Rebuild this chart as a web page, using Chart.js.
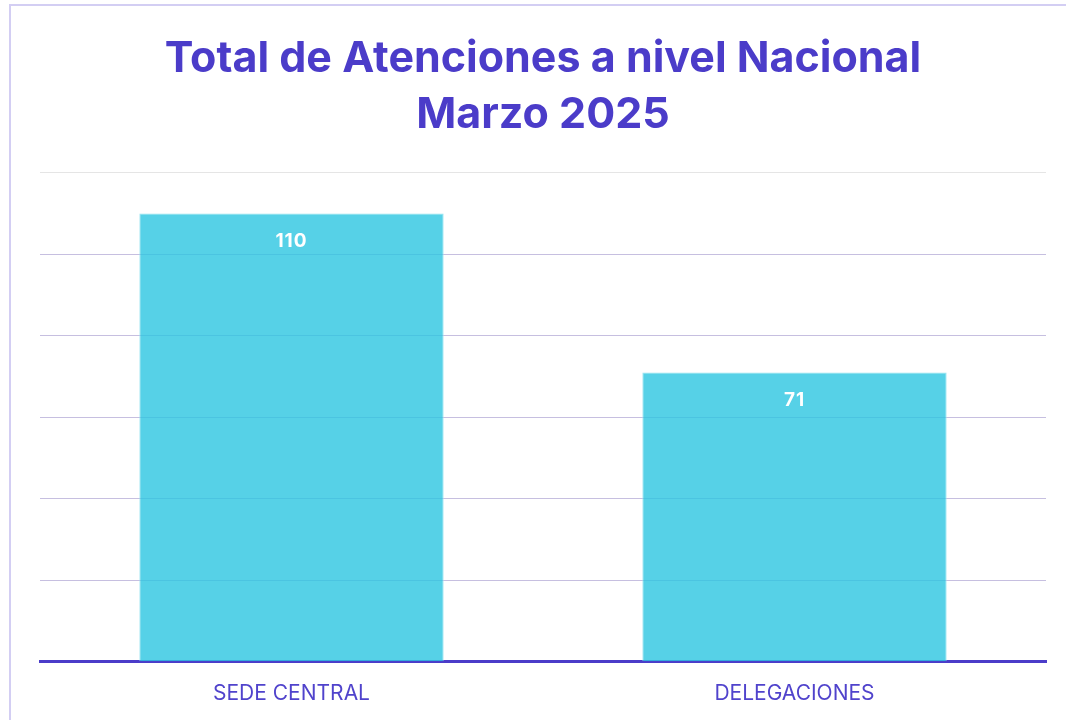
<!DOCTYPE html>
<html>
<head>
<meta charset="utf-8">
<script src="https://cdn.jsdelivr.net/npm/chart.js@4"></script>
<style>
    body { margin: 0; background: #fff; overflow: hidden; }
    .frame {
        position: absolute; left: 9px; top: 4px;
        width: 1100px; height: 800px;
        border: 2px solid #d3cef3;
    }
    .wrap { position: absolute; left: 0; top: 0; width: 1066px; height: 740px; }
</style>
</head>
<body>
<div class="frame"></div>
<div class="wrap"><canvas id="atencionesChart"></canvas></div>
<script>
// Chart data
const categories = ['SEDE CENTRAL', 'DELEGACIONES'];
const atenciones = [110, 71];
const titleLines = ['Total de Atenciones a nivel Nacional', 'Marzo 2025'];

const PURPLE = '#4b3cc9';

// Draw values inside top of each bar
const barValuesPlugin = {
    id: 'barValues',
    afterDatasetsDraw(chart) {
        const ctx = chart.ctx;
        const meta = chart.getDatasetMeta(0);
        ctx.save();
        ctx.fillStyle = '#ffffff';
        ctx.font = 'bold 19px Inter, "Liberation Sans", sans-serif';
        ctx.letterSpacing = '1px';
        ctx.textAlign = 'center';
        ctx.textBaseline = 'middle';
        meta.data.forEach((bar, i) => {
            ctx.fillText(chart.data.datasets[0].data[i], bar.x, bar.y + 28);
        });
        ctx.restore();
    }
};

const ctx1 = document.getElementById('atencionesChart').getContext('2d');
const atencionesChart = new Chart(ctx1, {
    type: 'bar',
    data: {
        labels: categories,
        datasets: [{
            label: 'Atenciones',
            data: atenciones,
            backgroundColor: 'rgba(44, 198, 225, 0.8)',
            borderColor: 'rgba(140, 225, 240, 0.9)',
            borderWidth: 1,
            barPercentage: 0.605,
            categoryPercentage: 1
        }]
    },
    options: {
        responsive: true,
        maintainAspectRatio: false,
        animation: false,
        layout: {
            padding: { left: 40, right: 20, top: 0, bottom: 15 }
        },
        plugins: {
            legend: { display: false },
            tooltip: { enabled: false },
            title: {
                display: true,
                text: titleLines,
                color: PURPLE,
                font: { family: 'Inter, sans-serif', size: 43, weight: 'bold', lineHeight: 1.3 },
                padding: { top: 31, bottom: 30 }
            }
        },
        scales: {
            x: {
                grid: { display: false, drawTicks: false },
                border: { display: true, color: PURPLE, width: 3 },
                ticks: {
                    color: '#5043cc',
                    padding: 19,
                    font: { family: 'Inter, sans-serif', size: 21 }
                }
            },
            y: {
                min: 0,
                max: 120,
                ticks: { display: false, stepSize: 20 },
                border: { display: false },
                grid: {
                    drawTicks: false,
                    color: function(context) {
                        return context.tick.value === 120 ? 'rgba(0,0,0,0.1)' : '#c6bfe0';
                    }
                }
            }
        }
    },
    plugins: [barValuesPlugin]
});
</script>
</body>
</html>
